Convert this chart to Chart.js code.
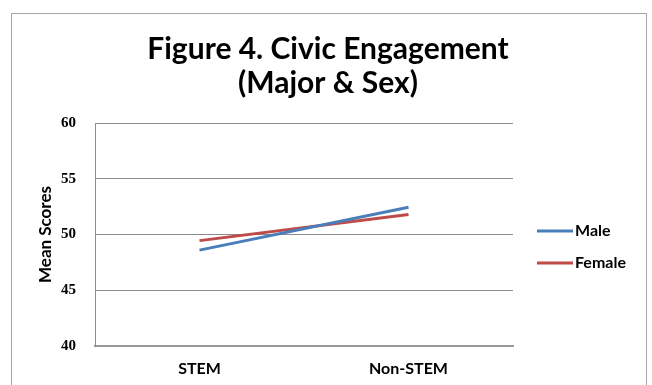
<!DOCTYPE html>
<html>
<head>
<meta charset="utf-8">
<script src="https://cdn.jsdelivr.net/npm/chart.js@4"></script>
<style>
  html, body { margin: 0; padding: 0; background: #fff; }
  #wrap { width: 652px; height: 385px; }
</style>
</head>
<body>
<div id="wrap"><canvas id="c" width="652" height="385"></canvas></div>
<script>
// Civic engagement mean scores by major and sex
const categories = ['STEM', 'Non-STEM'];
const maleScores = [48.6, 52.45];
const femaleScores = [49.45, 51.8];
const yTicks = [40, 45, 50, 55, 60];
const seriesNames = ['Male', 'Female'];
const seriesColors = ['#4a7ebb', '#be4b48'];
const titleLines = ['Figure 4. Civic Engagement', '(Major & Sex)'];

const SANS = 'Lato, "Open Sans", sans-serif';

// Frame around the whole chart, plus the two-line heading centred on the frame
const framePlugin = {
  id: 'frame',
  beforeDraw(chart) {
    const ctx = chart.ctx;
    ctx.save();
    ctx.fillStyle = '#fff';
    ctx.fillRect(0, 0, chart.width, chart.height);
    ctx.strokeStyle = '#a6a6a6';
    ctx.lineWidth = 1;
    ctx.strokeRect(11.5, 13.5, 635, 400);
    ctx.restore();
  },
  afterDraw(chart) {
    const ctx = chart.ctx;
    ctx.save();
    ctx.fillStyle = '#000';
    ctx.font = 'bold 30px ' + SANS;
    ctx.textAlign = 'center';
    ctx.textBaseline = 'alphabetic';
    ctx.fillText(titleLines[0], 328, 59);
    ctx.fillText(titleLines[1], 328, 93);
    ctx.restore();
  }
};

// Legend drawn to the right of the plot area
const sideLegend = {
  id: 'sideLegend',
  afterDraw(chart) {
    const ctx = chart.ctx;
    const area = chart.chartArea;
    const x0 = area.right + 24;
    const rows = [231, 263];
    ctx.save();
    chart.data.datasets.forEach((ds, i) => {
      const y = rows[i];
      ctx.strokeStyle = ds.borderColor;
      ctx.lineWidth = 3;
      ctx.beginPath();
      ctx.moveTo(x0, y);
      ctx.lineTo(x0 + 36, y);
      ctx.stroke();
      ctx.fillStyle = '#000';
      ctx.font = 'bold 16px ' + SANS;
      ctx.textBaseline = 'middle';
      ctx.textAlign = 'left';
      ctx.fillText(ds.label, x0 + 38, y);
    });
    ctx.restore();
  }
};

new Chart(document.getElementById('c'), {
  type: 'line',
  data: {
    labels: categories,
    datasets: [
      {
        label: seriesNames[0],
        data: maleScores,
        borderColor: seriesColors[0],
        backgroundColor: seriesColors[0],
        borderWidth: 3,
        pointRadius: 0,
        tension: 0
      },
      {
        label: seriesNames[1],
        data: femaleScores,
        borderColor: seriesColors[1],
        backgroundColor: seriesColors[1],
        borderWidth: 3,
        pointRadius: 0,
        tension: 0
      }
    ]
  },
  options: {
    responsive: false,
    animation: false,
    layout: { padding: { left: 0, right: 139, top: 123, bottom: 0 } },
    plugins: {
      legend: { display: false },
      tooltip: { enabled: false },
      title: { display: false }
    },
    scales: {
      x: {
        type: 'category',
        offset: true,
        grid: { display: false, drawTicks: false },
        border: { display: true, color: '#9a9a9a', width: 2 },
        ticks: {
          color: '#000',
          padding: 13,
          font: { family: SANS, size: 16, weight: 'bold' }
        },
        afterFit(scale) { scale.height = 39; }
      },
      y: {
        min: 40,
        max: 60,
        afterBuildTicks(scale) { scale.ticks = yTicks.map(v => ({ value: v })); },
        grid: { color: '#8c8c8c', lineWidth: 1, drawTicks: false },
        border: { display: true, color: '#8c8c8c', width: 1 },
        ticks: {
          color: '#000',
          padding: 19,
          font: { family: '"Liberation Serif", "DejaVu Serif", serif', size: 15, weight: 'bold' }
        },
        title: {
          display: true,
          text: 'Mean Scores',
          color: '#000',
          font: { family: SANS, size: 17, weight: 'bold' },
          padding: { top: 35, bottom: 0 }
        },
        afterFit(scale) { scale.width = 95; }
      }
    }
  },
  plugins: [framePlugin, sideLegend]
});
</script>
</body>
</html>
